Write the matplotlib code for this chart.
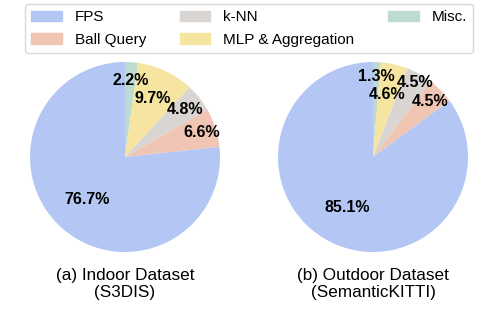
import numpy as np
import matplotlib.pyplot as plt
from matplotlib.patches import Patch

plt.rcParams['font.family'] = ['Liberation Sans', 'DejaVu Sans']

# slice order as drawn (clockwise from top)
parts = ['Misc.', 'MLP & Aggregation', 'k-NN', 'Ball Query', 'FPS']
indoor = [2.2, 9.7, 4.8, 6.6, 76.7]
outdoor = [1.3, 4.6, 4.5, 4.5, 85.1]
titles = ['(a) Indoor Dataset\n(S3DIS)', '(b) Outdoor Dataset\n(SemanticKITTI)']

colors = {'FPS': '#b3c6f4', 'Ball Query': '#f1c5b4', 'k-NN': '#d9d5d2',
          'MLP & Aggregation': '#f6e4a1', 'Misc.': '#bddbd1'}
legend_order = ['FPS', 'Ball Query', 'k-NN', 'MLP & Aggregation', 'Misc.']

# label radial distances (fraction of radius) per slice
dist_in = [0.81, 0.68, 0.81, 0.85, 0.6]
dist_out = [0.85, 0.68, 0.9, 0.84, 0.59]

fig = plt.figure(figsize=(4.98, 3.10), dpi=100)
W, H = 498, 310
r = 95
for cx, vals, dists, title in [(125, indoor, dist_in, titles[0]),
                               (373, outdoor, dist_out, titles[1])]:
    ax = fig.add_axes([(cx - r) / W, (153 - r) / H, 2 * r / W, 2 * r / H])
    wedges, _ = ax.pie(vals, colors=[colors[p] for p in parts], startangle=90,
                       counterclock=False, wedgeprops=dict(linewidth=0))
    for w, v, d in zip(wedges, vals, dists):
        ang = np.deg2rad((w.theta1 + w.theta2) / 2)
        ax.text(d * np.cos(ang), d * np.sin(ang), f'{v}%', ha='center', va='center',
                fontsize=11.5, fontweight='bold')
    ax.set_xlim(-1, 1)
    ax.set_ylim(-1, 1)
    ax.set_aspect('equal')
    fig.text(cx / W, 1 - 268 / H, title, ha='center', va='top', fontsize=12.3,
             linespacing=1.15)

handles = [Patch(color=colors[p], label=p) for p in legend_order]
fig.legend(handles=handles, ncol=3, mode='expand', loc='lower left',
           bbox_to_anchor=(25 / W, 1 - 53 / H, 448 / W, 48 / H), fontsize=11,
           handlelength=2.0, handletextpad=0.85, borderaxespad=0,
           labelspacing=0.55, borderpad=0.4, frameon=True, edgecolor='#d0d0d0')

fig.savefig('out.png', dpi=100)
